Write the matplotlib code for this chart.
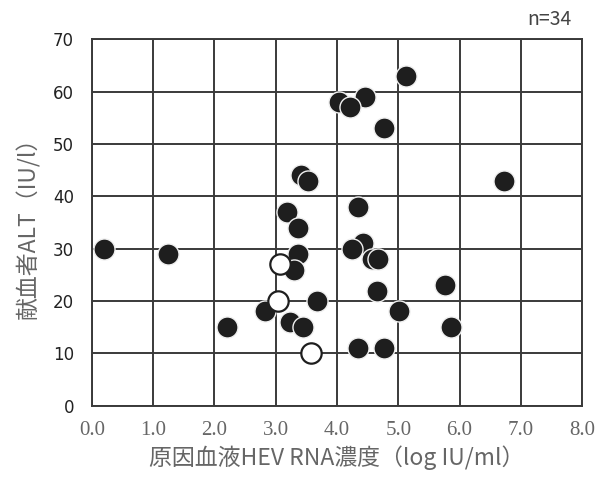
import numpy as np
import matplotlib
matplotlib.use("Agg")
import matplotlib.pyplot as plt

plt.rcParams['font.family'] = ['Noto Sans CJK JP', 'DejaVu Sans']

# filled circles: donors (log IU/ml, ALT)
x_filled = [5.12, 4.45, 4.03, 4.21, 4.77, 3.41, 3.52, 4.34, 3.18, 3.37,
            4.43, 4.24, 4.57, 4.67, 3.37, 3.30, 4.65, 5.76, 3.68, 2.82,
            5.01, 3.23, 3.45, 2.20, 5.86, 4.35, 4.77, 0.20, 1.24, 6.73]
y_filled = [63, 59, 58, 57, 53, 44, 43, 38, 37, 34,
            31, 30, 28, 28, 29, 26, 22, 23, 20, 18,
            18, 16, 15, 15, 15, 11, 11, 30, 29, 43]
# open circles
x_open = [3.07, 3.03, 3.57]
y_open = [27, 20, 10]

x_ticks = np.arange(0, 8.01, 1.0)
y_ticks = np.arange(0, 71, 10)

fig = plt.figure(figsize=(6.04, 4.83), dpi=100)
ax = fig.add_axes([0.1523, 0.1602, 0.8113, 0.7582])

ax.set_xlim(0, 8)
ax.set_ylim(0, 70)
ax.set_xticks(x_ticks)
ax.set_yticks(y_ticks)
ax.set_xticklabels(['%.1f' % v for v in x_ticks], family='Liberation Serif',
                   fontsize=15, color='#666666')
ax.set_yticklabels(['%d' % v for v in y_ticks], family='DejaVu Sans',
                   fontsize=12, color='#222222')
ax.tick_params(length=0)
ax.tick_params(axis='y', pad=13)
ax.tick_params(axis='x', pad=11)

ax.grid(True, color='#3a3a3a', linewidth=1.4)
ax.set_axisbelow(True)
for s in ax.spines.values():
    s.set_color('#3a3a3a')
    s.set_linewidth(1.4)

ax.scatter(x_filled, y_filled, s=230, c='#1e1e1e', edgecolors='#f0f0f0',
           linewidths=1.0, zorder=3, clip_on=False)
ax.scatter(x_open, y_open, s=215, c='white', edgecolors='#1e1e1e',
           linewidths=1.6, zorder=4, clip_on=False)

ax.set_xlabel('原因血液HEV RNA濃度（log IU/ml）', fontsize=16.5, color='#666666',
              labelpad=4)
ax.set_ylabel('献血者ALT（IU/l）', fontsize=16.5, color='#666666', labelpad=9)

fig.text(0.947, 0.948, 'n=34', fontsize=14, color='#444444', ha='right')

fig.savefig('out.png', dpi=100)
